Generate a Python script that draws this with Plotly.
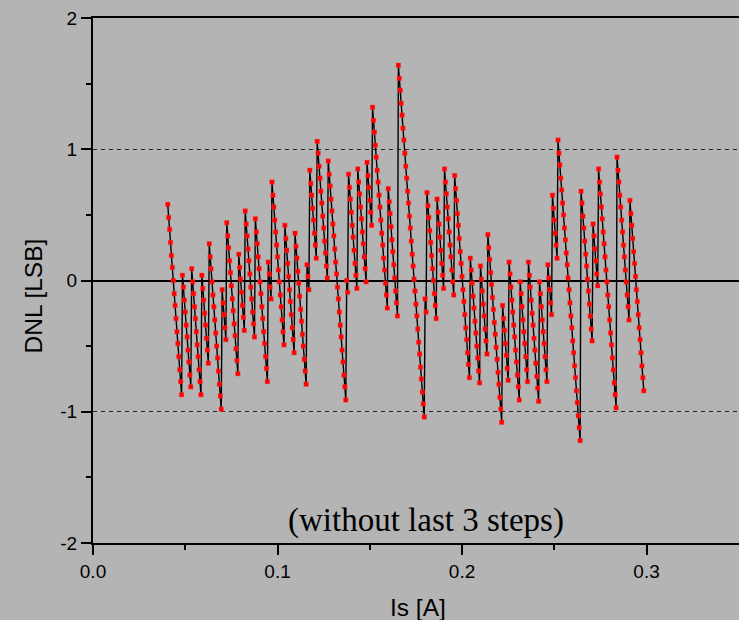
import plotly.graph_objects as go

# DNL values [LSB], one list per ramp ("tooth")
dnl_teeth = [
    [0.58, 0.48, 0.39, 0.29, 0.19, 0.10, 0.00, -0.10, -0.19, -0.29, -0.39, -0.48, -0.58, -0.68, -0.77, -0.87],
    [0.04, -0.05, -0.15, -0.24, -0.34, -0.43, -0.53, -0.62, -0.72, -0.81],
    [0.09, -0.01, -0.10, -0.20, -0.29, -0.39, -0.49, -0.58, -0.68, -0.77, -0.87],
    [0.04, -0.06, -0.15, -0.25, -0.34, -0.44, -0.53, -0.63],
    [0.28, 0.18, 0.09, -0.01, -0.11, -0.20, -0.30, -0.40, -0.50, -0.59, -0.69, -0.79, -0.88, -0.98],
    [-0.07, -0.17, -0.26, -0.36, -0.45],
    [0.44, 0.34, 0.25, 0.15, 0.06, -0.04, -0.14, -0.23, -0.33, -0.42, -0.52, -0.61, -0.71],
    [0.20, 0.10, 0.01, -0.09, -0.19, -0.28, -0.38],
    [0.53, 0.43, 0.34, 0.24, 0.15, 0.05, -0.05, -0.14, -0.24, -0.33, -0.43],
    [0.47, 0.37, 0.28, 0.18, 0.09, -0.01, -0.10, -0.20, -0.29, -0.39, -0.48, -0.58, -0.67, -0.77],
    [0.14, 0.05, -0.05, -0.14],
    [0.75, 0.65, 0.56, 0.46, 0.37, 0.27, 0.18, 0.08, -0.01, -0.11, -0.20, -0.30, -0.39, -0.49],
    [0.42, 0.32, 0.23, 0.13, 0.03, -0.07, -0.16, -0.26, -0.36, -0.45, -0.55],
    [0.36, 0.26, 0.17, 0.07, -0.02, -0.12, -0.22, -0.31, -0.41, -0.50, -0.60, -0.69, -0.79],
    [0.12, 0.03, -0.07],
    [0.84, 0.74, 0.65, 0.55, 0.46, 0.36, 0.27, 0.17],
    [1.06, 0.97, 0.87, 0.78, 0.68, 0.59, 0.49, 0.40, 0.30, 0.21, 0.11, 0.02],
    [0.91, 0.81, 0.72, 0.62, 0.53, 0.43, 0.34, 0.24, 0.14, 0.05, -0.05, -0.14, -0.24, -0.34, -0.43, -0.53, -0.62, -0.72, -0.81, -0.91],
    [0.00, -0.09],
    [0.81, 0.71, 0.62, 0.52, 0.42, 0.33, 0.23, 0.13, 0.04, -0.06],
    [0.85, 0.75, 0.66, 0.56, 0.47, 0.37, 0.28, 0.18, 0.09, -0.01],
    [0.90, 0.80, 0.71, 0.61, 0.52, 0.42],
    [1.32, 1.22, 1.13, 1.03, 0.94, 0.84, 0.75, 0.65, 0.56, 0.46, 0.36, 0.27, 0.17, 0.08, -0.02, -0.11, -0.21],
    [0.70, 0.60, 0.51, 0.41, 0.31, 0.22, 0.12, 0.02, -0.08, -0.17, -0.27],
    [1.64, 1.54, 1.45, 1.35, 1.26, 1.16, 1.07, 0.97, 0.87, 0.78, 0.68, 0.59, 0.49, 0.40, 0.30,
     0.20, 0.11, 0.01, -0.08, -0.18, -0.27, -0.37, -0.47, -0.56, -0.66, -0.75, -0.85, -0.94, -1.04],
    [-0.14, -0.24],
    [0.67, 0.57, 0.48, 0.38, 0.29, 0.19, 0.09, 0.00, -0.10, -0.19, -0.29],
    [0.62, 0.52, 0.43, 0.33, 0.23, 0.13, 0.04, -0.06],
    [0.85, 0.75, 0.66, 0.56, 0.47, 0.37, 0.27, 0.18, 0.08, -0.01, -0.11],
    [0.80, 0.70, 0.61, 0.51, 0.42, 0.32, 0.22, 0.13, 0.03, -0.07, -0.16, -0.26, -0.36, -0.45, -0.55, -0.64, -0.74],
    [0.17, 0.08, -0.02, -0.12, -0.21, -0.31, -0.40, -0.50, -0.59, -0.69, -0.78],
    [0.11, 0.01, -0.08, -0.18, -0.27, -0.37, -0.46, -0.56],
    [0.35, 0.25, 0.16, 0.06, -0.03, -0.13, -0.22, -0.32, -0.41, -0.51, -0.60, -0.70, -0.79, -0.89, -0.98, -1.08],
    [-0.19, -0.29, -0.38, -0.48, -0.57, -0.67, -0.76],
    [0.14, 0.05, -0.05, -0.15, -0.24, -0.34, -0.43, -0.53, -0.62, -0.72, -0.81, -0.91],
    [-0.01, -0.10, -0.20, -0.30, -0.39, -0.48, -0.58, -0.68, -0.77],
    [0.14, 0.04, -0.05, -0.15, -0.25, -0.34, -0.44, -0.53, -0.63, -0.73, -0.82, -0.92],
    [-0.01, -0.10, -0.20, -0.30, -0.39, -0.48, -0.58, -0.68, -0.77],
    [0.12, 0.02, -0.07, -0.17, -0.26],
    [0.65, 0.55, 0.46, 0.36, 0.27, 0.17],
    [1.07, 0.97, 0.88, 0.78, 0.69, 0.59, 0.50, 0.40, 0.31, 0.21, 0.12, 0.02, -0.07, -0.17, -0.27,
     -0.36, -0.46, -0.55, -0.65, -0.74, -0.84, -0.93, -1.03, -1.12, -1.22],
    [0.68, 0.59, 0.49, 0.40, 0.30, 0.20, 0.11, 0.01, -0.08, -0.18, -0.27, -0.37, -0.46],
    [0.43, 0.34, 0.24, 0.15, 0.05, -0.04],
    [0.85, 0.75, 0.66, 0.56, 0.47, 0.37, 0.28, 0.18, 0.08, -0.01, -0.11, -0.20, -0.30, -0.40, -0.49, -0.59, -0.68, -0.78, -0.87, -0.97],
    [0.94, 0.84, 0.75, 0.65, 0.56, 0.46, 0.37, 0.27, 0.18, 0.08, -0.01, -0.11, -0.20, -0.30],
    [0.61, 0.51, 0.42, 0.32, 0.22, 0.13, 0.03, -0.07, -0.16, -0.26, -0.36, -0.45, -0.55, -0.65, -0.74, -0.84],
]
# current sweep [A]: first sample and sample spacing
Is_start = 0.0405
Is_step = 0.0005

x_ticks = [0.0, 0.1, 0.2, 0.3]
x_ticklabels = ["0.0", "0.1", "0.2", "0.3"]
x_minor = [0.05, 0.15, 0.25]
y_ticks = [-2, -1, 0, 1, 2]
y_ticklabels = ["-2", "-1", "0", "1", "2"]
y_minor = [-1.5, -0.5, 0.5, 1.5]
note_text = "(without last 3 steps)"
x_title = "Is [A]"
y_title = "DNL [LSB]"

dnl = [v for tooth in dnl_teeth for v in tooth]
Is = [Is_start + Is_step * i for i in range(len(dnl))]

BG = "#b4b4b4"
fig = go.Figure()
fig.add_trace(go.Scatter(
    x=Is, y=dnl, mode="lines+markers",
    line=dict(color="black", width=1.4),
    marker=dict(symbol="square", size=4.5, color="#ff0000", line=dict(width=0.6, color="rgba(255,60,60,0.6)")),
    hoverinfo="x+y",
))

fig.update_layout(
    width=739, height=620,
    margin=dict(l=93, r=0, t=18, b=77),
    paper_bgcolor=BG, plot_bgcolor=BG, showlegend=False,
    font=dict(family="Liberation Sans, Arial, sans-serif", size=19, color="black"),
    annotations=[
        dict(x=0.1805, y=-1.83, xref="x", yref="y", text=note_text, showarrow=False,
             font=dict(family="Liberation Serif, Times New Roman, serif", size=33, color="black"),
             xanchor="center", yanchor="middle"),
        dict(x=(418 - 93) / 646, y=(543 - 607) / 525, xref="paper", yref="paper", text=x_title,
             showarrow=False, font=dict(size=24.5), xanchor="center", yanchor="middle"),
        dict(x=(32.5 - 93) / 646, y=(543 - 296) / 525, xref="paper", yref="paper", text=y_title,
             showarrow=False, font=dict(size=24.5), textangle=-90, xanchor="center", yanchor="middle"),
    ],
)
fig.update_xaxes(
    range=[0, 0.3501], showline=True, linecolor="black", linewidth=2, mirror=True,
    ticks="outside", ticklen=10, tickwidth=2, tickcolor="black",
    tickvals=x_ticks, ticktext=x_ticklabels,
    showgrid=False, zeroline=False,
    minor=dict(tickvals=x_minor, ticks="outside", ticklen=5, tickwidth=2, tickcolor="black", showgrid=False),
    fixedrange=True,
)
fig.update_yaxes(
    range=[-2, 2], showline=True, linecolor="black", linewidth=2, mirror=False,
    ticks="outside", ticklen=10, tickwidth=2, tickcolor="black",
    tickvals=y_ticks, ticktext=y_ticklabels,
    showgrid=True, gridcolor="#262626", gridwidth=1, griddash="4px,4px",
    zeroline=True, zerolinecolor="black", zerolinewidth=2,
    minor=dict(tickvals=y_minor, ticks="outside", ticklen=5, tickwidth=2, tickcolor="black", showgrid=False),
    fixedrange=True,
)

fig.write_html(
    "out.html",
    config={"displayModeBar": False},
    post_script="document.body.style.margin='0';document.body.style.overflow='hidden';"
                "document.body.style.background='#b4b4b4';",
)
